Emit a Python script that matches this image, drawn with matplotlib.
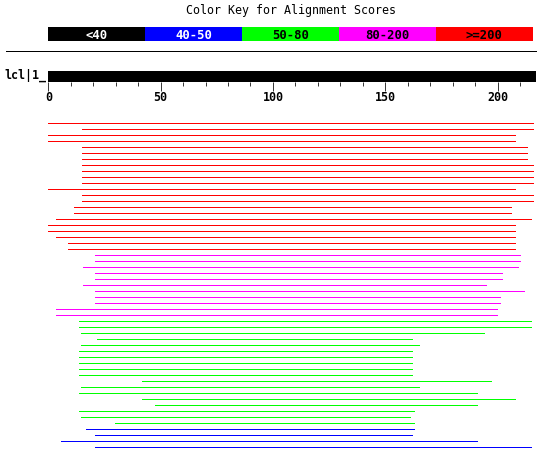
import matplotlib
matplotlib.use("Agg")
import matplotlib.pyplot as plt
from matplotlib.ticker import MultipleLocator

# ---------------- data ----------------
QUERY_LABEL = "lcl|1_"
QUERY_LEN = 217
TITLE = "Color Key for Alignment Scores"
SCORE_BINS = ["<40", "40-50", "50-80", "80-200", ">=200"]
BIN_COLORS = ["#000000", "#0000ff", "#00ff00", "#ff00ff", "#ff0000"]
BIN_TEXT_COLORS = ["white", "white", "black", "black", "black"]
MAJOR_TICKS = [0, 50, 100, 150, 200]

# hits, top to bottom: start, end (query coordinates), score bin index
hit_start = [0, 15, 0, 0, 15, 15, 15, 15, 15, 15, 15, 0, 15, 15, 11.4, 11.4, 3.4, 0,
             0, 3.4, 8.8, 8.8,
             20.8, 20.8, 15.4, 20.8, 20.8, 15.4, 20.8, 20.8, 20.8, 3.4, 3.4,
             13.7, 13.7, 14.6, 21.7, 14.6, 13.7, 13.7, 13.7, 13.7, 13.7, 41.7, 14.6,
             13.7, 41.7, 47.5, 13.7, 14.6, 29.7,
             16.8, 20.8, 5.7, 20.8]
hit_end = [215.8, 215.8, 207.9, 207.9, 213.1, 213.1, 213.1, 215.8, 215.8, 215.8, 215.8,
           207.9, 215.8, 215.8, 206.0, 206.0, 214.9, 207.9,
           207.9, 207.9, 207.9, 207.9,
           209.9, 209.9, 209.0, 201.9, 201.9, 194.7, 211.7, 201.0, 201.0, 199.6, 199.6,
           214.9, 214.9, 193.9, 161.8, 165.0, 161.8, 161.8, 161.8, 161.8, 161.8, 197.0,
           165.0, 190.7, 207.7, 190.7, 162.7, 160.9, 162.7,
           162.7, 161.8, 190.7, 214.9]
hit_bin = [4] * 22 + [3] * 11 + [2] * 18 + [1] * 4

# ---------------- layout (pixels) ----------------
W, H = 539, 451
X0, X1 = 48.3, 535.7          # query axis span
LEG_X0, LEG_X1 = 48.3, 532.7
FS = 8.4
MONO = "DejaVu Sans Mono"
LW = 0.55

fig = plt.figure(figsize=(W / 100, H / 100), dpi=100)
fig.patch.set_facecolor("white")


def frac_rect(x0, y0, x1, y1):
    return [x0 / W, 1 - y1 / H, (x1 - x0) / W, (y1 - y0) / H]


# overlay axes in pixel coordinates for legend / decorations
deco = fig.add_axes([0, 0, 1, 1])
deco.set_xlim(0, W)
deco.set_ylim(H, 0)
deco.axis("off")

deco.text((LEG_X0 + LEG_X1) / 2, 14, TITLE, ha="center", va="baseline",
          fontsize=FS, family=MONO, color="black")

seg_w = (LEG_X1 - LEG_X0) / len(SCORE_BINS)
for i, (lab, c, tc) in enumerate(zip(SCORE_BINS, BIN_COLORS, BIN_TEXT_COLORS)):
    left = LEG_X0 + i * seg_w
    deco.add_patch(plt.Rectangle((left, 27), seg_w, 14, facecolor=c,
                                 edgecolor="none", antialiased=False))
    deco.text(left + seg_w / 2, 38.7, lab, ha="center", va="baseline",
              fontsize=FS + 0.4, family=MONO, fontweight="bold", color=tc)

deco.plot([6, 535.7], [50.5, 50.5], color="black", lw=LW,
          solid_capstyle="butt", antialiased=False)

deco.text(46, 78.3, QUERY_LABEL, ha="right", va="baseline", fontsize=FS,
          family=MONO, fontweight="bold", color="black")

# query ruler
ruler = fig.add_axes(frac_rect(X0, 71, X1, 81.7))
ruler.set_xlim(0, QUERY_LEN)
ruler.set_ylim(0, 1)
ruler.barh(0.5, QUERY_LEN, left=0, height=1, color="black", antialiased=False)
for s in ruler.spines.values():
    s.set_visible(False)
ruler.set_yticks([])
ruler.set_xticks(MAJOR_TICKS)
ruler.set_xticklabels([str(t) for t in MAJOR_TICKS], family=MONO,
                      fontweight="bold", fontsize=FS)
ruler.xaxis.set_minor_locator(MultipleLocator(10))
ruler.tick_params(axis="x", which="major", direction="out", length=6.2,
                  width=LW, pad=0.8, color="black")
ruler.tick_params(axis="x", which="minor", direction="out", length=3.2,
                  width=LW, color="black")
ruler.set_facecolor("none")

# hits
hits = fig.add_axes(frac_rect(X0, 120.3, X1, 450.3))
hits.set_xlim(0, QUERY_LEN)
hits.set_ylim(len(hit_start), 0)
hits.axis("off")
for i, (s, e, b) in enumerate(zip(hit_start, hit_end, hit_bin)):
    hits.hlines(i + 0.5, s, e, color=BIN_COLORS[b], lw=LW,
                antialiased=False)

fig.savefig("out.png", dpi=100, facecolor="white")
